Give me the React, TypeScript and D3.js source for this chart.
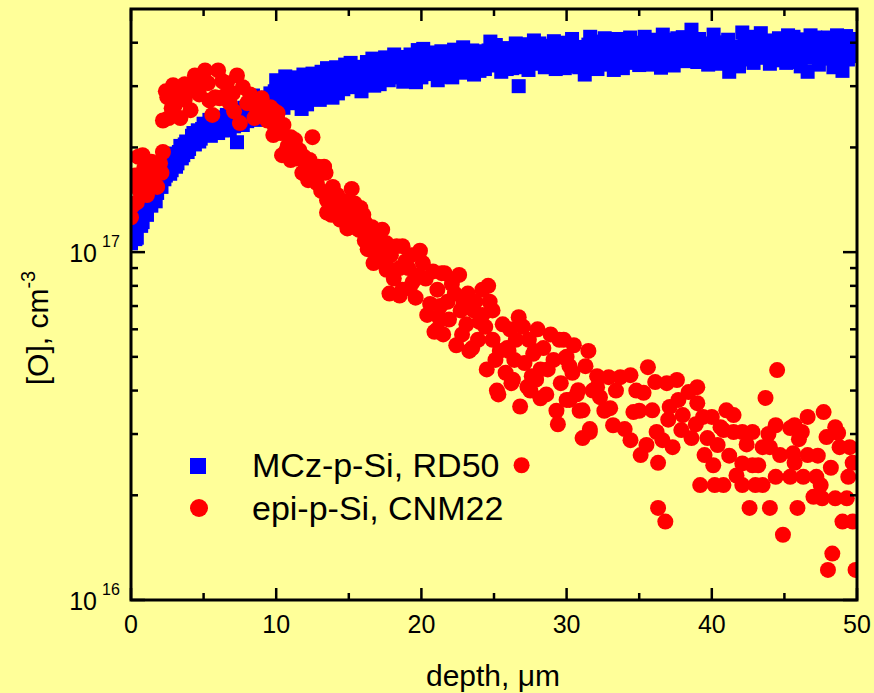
import React from "react";
import * as d3 from "d3";

// [O] values are given in units of 1e16 cm^-3
const UNIT = 1e16;

const mczPoints: [number, number][] = [
  [0.0, 10.6], [0.1, 11.8], [0.2, 11.4], [0.3, 10.9], [0.4, 11.0], [0.5, 12.4], [0.6, 12.6], [0.7, 11.9],
  [0.8, 12.2], [0.9, 13.6], [1.0, 13.4], [1.1, 12.8], [1.2, 14.4], [1.3, 14.8], [1.4, 13.6], [1.5, 14.6],
  [1.6, 15.6], [1.7, 14.0], [1.8, 14.8], [1.9, 16.0], [2.0, 16.2], [2.1, 15.4], [2.2, 17.4], [2.3, 16.2],
  [2.4, 16.6], [2.5, 17.8], [2.6, 18.4], [2.7, 16.8], [2.8, 17.2], [2.9, 18.6], [3.0, 19.2], [3.1, 17.6],
  [3.2, 18.0], [3.3, 19.4], [3.4, 20.2], [3.5, 18.6], [3.6, 19.0], [3.7, 20.4], [3.8, 20.8], [3.9, 19.4],
  [4.0, 19.8], [4.1, 20.6], [4.2, 21.6], [4.3, 22.0], [4.4, 20.4], [4.5, 21.0], [4.6, 22.4], [4.7, 20.8],
  [4.8, 21.2], [4.9, 22.6], [5.0, 23.4], [5.1, 22.2], [5.2, 21.8], [5.3, 23.0], [5.4, 24.0], [5.5, 21.6],
  [5.6, 22.6], [5.7, 24.2], [5.8, 23.6], [5.9, 22.6], [6.0, 22.0], [6.1, 23.6], [6.2, 24.4], [6.3, 22.4],
  [6.4, 23.0], [6.5, 24.0], [6.6, 24.8], [6.7, 23.4], [6.8, 22.4], [6.9, 25.0], [7.0, 24.0], [7.1, 23.0],
  [7.2, 25.2], [7.3, 20.7], [7.4, 23.4], [7.5, 25.6], [7.6, 24.6], [7.7, 23.2], [7.8, 26.0], [7.9, 25.0],
  [8.0, 23.8], [8.1, 26.6], [8.2, 25.6], [8.3, 24.2], [8.4, 28.2], [8.5, 27.0], [8.6, 24.4], [8.7, 25.4],
  [8.8, 26.8], [8.9, 24.0], [9.0, 25.0], [9.1, 27.8], [9.2, 27.4], [9.3, 26.0], [9.4, 24.6], [9.5, 25.2],
  [9.6, 28.6], [9.7, 27.0], [9.8, 26.0], [9.9, 29.0], [10.0, 31.2], [10.1, 25.0],
  [10.125, 29.2], [10.25, 30.5], [10.375, 27.6], [10.5, 26.0], [10.625, 32.0], [10.75, 28.9], [10.875, 26.8],
  [11.0, 31.8], [11.125, 29.8], [11.25, 27.2], [11.375, 31.0], [11.5, 29.6], [11.625, 28.2], [11.75, 25.8],
  [11.875, 32.4], [12.0, 30.8], [12.125, 26.6], [12.25, 28.4], [12.375, 30.2], [12.5, 32.6], [12.625, 28.0],
  [12.75, 29.0], [12.875, 31.4], [13.0, 27.4], [13.125, 33.0], [13.25, 31.5], [13.375, 28.8], [13.5, 33.8],
  [13.625, 30.6], [13.75, 29.5], [13.875, 27.8], [14.0, 31.9], [14.125, 34.0], [14.25, 28.6], [14.375, 30.8],
  [14.5, 33.0], [14.625, 29.4], [14.75, 34.6], [14.875, 32.6], [15.0, 30.4], [15.125, 35.0], [15.25, 32.2],
  [15.375, 30.2], [15.5, 29.8], [15.625, 33.2], [15.75, 34.1], [15.875, 29.0], [16.0, 31.6], [16.125, 33.8],
  [16.25, 35.2], [16.375, 31.0], [16.5, 32.4], [16.625, 36.0], [16.75, 30.1], [16.875, 32.8], [17.0, 34.4],
  [17.125, 30.4], [17.25, 33.0], [17.375, 35.0], [17.5, 36.3], [17.625, 32.0], [17.75, 31.2], [17.875, 34.6],
  [18.0, 34.9], [18.125, 37.0], [18.25, 32.6], [18.375, 31.8], [18.5, 35.8], [18.625, 33.6], [18.75, 30.9],
  [18.875, 36.4], [19.0, 34.0], [19.125, 32.2], [19.25, 37.0], [19.375, 35.2], [19.5, 33.1], [19.625, 30.8],
  [19.75, 38.1], [19.875, 34.6], [20.0, 31.8], [20.125, 38.4], [20.25, 36.6], [20.375, 33.2], [20.5, 34.2],
  [20.625, 36.0], [20.75, 32.5], [20.875, 34.4], [21.0, 37.5], [21.125, 31.2], [21.25, 34.8], [21.375, 37.8],
  [21.5, 31.9], [21.625, 33.8], [21.75, 36.0], [21.875, 35.4], [22.0, 33.6], [22.125, 31.8], [22.25, 38.2],
  [22.375, 36.4], [22.5, 35.1], [22.625, 34.0], [22.75, 32.8], [22.875, 38.8], [23.0, 36.9], [23.125, 33.0],
  [23.25, 34.0], [23.375, 36.2], [23.5, 38.0], [23.625, 32.4], [23.75, 35.6], [23.875, 37.8], [24.0, 33.2],
  [24.125, 35.4], [24.25, 37.4], [24.375, 33.6], [24.5, 35.0], [24.625, 38.0], [24.75, 40.3], [24.875, 36.2],
  [25.0, 34.4], [25.125, 39.4], [25.25, 36.8], [25.375, 35.0], [25.5, 33.0], [25.625, 37.2], [25.75, 38.6],
  [25.875, 33.6], [26.0, 35.9], [26.125, 38.2], [26.25, 33.8], [26.375, 36.0], [26.5, 39.8], [26.625, 34.0],
  [26.7, 30.0], [26.75, 36.5], [26.875, 39.6], [27.0, 34.6], [27.125, 35.8], [27.25, 38.8], [27.375, 33.4],
  [27.5, 36.0], [27.625, 37.6], [27.75, 40.6], [27.875, 34.8], [28.0, 35.2], [28.125, 39.8], [28.25, 37.9],
  [28.375, 36.6], [28.5, 34.0], [28.625, 35.2], [28.75, 39.2], [28.875, 38.0], [29.0, 36.4], [29.125, 40.4],
  [29.25, 33.6], [29.375, 35.0], [29.5, 38.1], [29.625, 37.2], [29.75, 35.5], [29.875, 33.8], [30.0, 40.0],
  [30.125, 38.4], [30.25, 36.8], [30.375, 41.0], [30.5, 34.2], [30.625, 36.4], [30.75, 38.9], [30.875, 34.0],
  [31.0, 35.7], [31.125, 37.6], [31.25, 32.4], [31.375, 35.4], [31.5, 39.5], [31.625, 41.6], [31.75, 36.2],
  [31.875, 38.4], [32.0, 40.3], [32.125, 33.6], [32.25, 37.4], [32.375, 36.4], [32.5, 34.6], [32.625, 41.2],
  [32.75, 39.0], [32.875, 37.2], [33.0, 35.4], [33.125, 39.4], [33.25, 33.4], [33.375, 35.8], [33.5, 41.0],
  [33.625, 38.2], [33.75, 37.0], [33.875, 33.8], [34.0, 38.6], [34.125, 37.6], [34.25, 35.0], [34.375, 41.4],
  [34.5, 40.0], [34.625, 35.4], [34.75, 36.6], [34.875, 38.8], [35.0, 34.5], [35.125, 36.4], [35.25, 39.4],
  [35.375, 41.6], [35.5, 37.2], [35.625, 34.6], [35.75, 40.4], [35.875, 38.2], [36.0, 35.8], [36.125, 40.8],
  [36.25, 38.0], [36.375, 36.6], [36.5, 33.9], [36.625, 42.2], [36.75, 39.6], [36.875, 35.0], [37.0, 37.0],
  [37.125, 38.6], [37.25, 40.8], [37.375, 34.4], [37.5, 36.0], [37.625, 41.2], [37.75, 38.5], [37.875, 37.8],
  [38.0, 41.5], [38.125, 35.4], [38.375, 39.6], [38.5, 37.6], [38.6, 43.6], [38.75, 40.0], [38.875, 37.2],
  [39.0, 35.2], [39.125, 41.0], [39.25, 38.9], [39.375, 36.0], [39.5, 36.6], [39.625, 39.8], [39.75, 34.6],
  [39.875, 37.4], [40.0, 39.2], [40.125, 42.2], [40.25, 37.4], [40.375, 34.8], [40.5, 35.6], [40.625, 38.4],
  [40.75, 40.1], [40.875, 36.8], [41.0, 38.0], [41.125, 40.8], [41.2, 33.0], [41.375, 35.6], [41.5, 39.0],
  [41.625, 38.2], [41.75, 36.4], [41.875, 34.2], [42.0, 37.2], [42.1, 42.8], [42.25, 40.4], [42.375, 37.6],
  [42.5, 35.8], [42.625, 41.6], [42.75, 38.6], [42.875, 35.0], [43.0, 41.2], [43.125, 38.6], [43.25, 36.4],
  [43.375, 42.6], [43.5, 39.4], [43.625, 36.2], [43.75, 37.0], [43.875, 40.2], [44.0, 34.8], [44.125, 37.8],
  [44.25, 40.6], [44.375, 35.6], [44.5, 38.2], [44.625, 41.2], [44.75, 36.0], [44.875, 38.8], [45.0, 39.8],
  [45.125, 35.0], [45.25, 42.0], [45.375, 39.2], [45.5, 37.4], [45.625, 41.6], [45.75, 35.2], [45.875, 37.0],
  [46.0, 38.8], [46.125, 34.2], [46.25, 40.9], [46.375, 39.0], [46.5, 36.2], [46.6, 33.0], [46.8, 42.0],
  [46.875, 37.2], [47.0, 39.0], [47.125, 41.4], [47.25, 36.8], [47.375, 34.6], [47.5, 40.2], [47.625, 38.8],
  [47.75, 37.6], [47.875, 36.0], [48.0, 41.4], [48.125, 40.6], [48.25, 38.2], [48.375, 34.0], [48.5, 35.4],
  [48.625, 42.0], [48.75, 39.6], [48.875, 37.0], [49.0, 33.2], [49.125, 39.4], [49.25, 41.8], [49.375, 35.8],
  [49.5, 37.8], [49.625, 41.0], [49.75, 39.4], [49.875, 38.2], [50.0, 36.6],
];

const epiPoints: [number, number][] = [
  [0.0, 12.6], [0.1, 13.6], [0.2, 15.6], [0.3, 16.6], [0.4, 13.9], [0.5, 18.8], [0.6, 15.0], [0.8, 19.0],
  [0.9, 17.4], [1.0, 16.0], [1.1, 14.6], [1.3, 15.4], [1.4, 18.2], [1.6, 16.4], [1.8, 15.4], [1.9, 17.2],
  [2.0, 18.0], [2.1, 16.9], [2.2, 19.4], [2.2, 23.9], [2.4, 29.0], [2.5, 27.9], [2.6, 24.3], [2.8, 25.9],
  [2.9, 30.2], [3.0, 26.4], [3.1, 28.8], [3.4, 29.8], [3.4, 24.3], [3.7, 30.4], [3.7, 27.4], [3.9, 30.0],
  [4.1, 25.6], [4.3, 29.2], [4.4, 32.2], [4.6, 30.6], [4.7, 28.4], [4.9, 31.4], [5.1, 33.3], [5.3, 30.6],
  [5.4, 27.3], [5.6, 24.8], [5.8, 27.9], [6.0, 33.3], [6.1, 27.7], [6.3, 31.0], [6.5, 28.2], [6.6, 30.6],
  [6.8, 26.8], [7.0, 28.6], [7.1, 25.4], [7.3, 32.2], [7.5, 23.5], [7.7, 29.8], [8.0, 26.8], [8.2, 28.4],
  [8.4, 26.6], [8.5, 24.3], [8.7, 26.0], [8.7, 25.0], [9.0, 27.7], [9.2, 25.2], [9.4, 23.9], [9.6, 26.1],
  [9.8, 21.7], [9.8, 25.6], [9.9, 23.0], [10.1, 25.1], [10.1, 23.9], [10.3, 22.0], [10.4, 19.0], [10.5, 23.2],
  [10.7, 19.6], [10.8, 20.2], [11.0, 18.4], [11.0, 21.4], [11.3, 21.0], [11.4, 18.6], [11.6, 19.6],
  [11.8, 16.9], [11.9, 18.8], [12.0, 17.2], [12.2, 16.1], [12.3, 18.4], [12.5, 21.4], [12.5, 16.4],
  [12.7, 17.6], [12.8, 15.8], [12.9, 17.6], [13.1, 15.0], [13.3, 17.6], [13.4, 16.9], [13.5, 14.1],
  [13.5, 13.0], [13.7, 14.4], [13.8, 12.8], [13.9, 15.4], [14.0, 13.5], [14.2, 14.6], [14.4, 13.2],
  [14.4, 12.4], [14.6, 13.2], [14.8, 14.0], [14.9, 11.7], [15.0, 12.8], [15.1, 11.8], [15.2, 15.2],
  [15.4, 13.8], [15.5, 12.6], [15.7, 11.6], [15.8, 13.4], [16.0, 12.8], [16.1, 12.2], [16.1, 10.8],
  [16.3, 10.2], [16.5, 11.2], [16.6, 11.8], [16.7, 9.3], [16.8, 10.0], [17.0, 10.8], [17.1, 9.6],
  [17.3, 11.6], [17.4, 10.2], [17.6, 10.6], [17.6, 8.9], [17.7, 9.0], [17.8, 7.6], [17.9, 9.8], [18.1, 8.4],
  [18.3, 10.4], [18.5, 9.0], [18.5, 7.5], [18.7, 7.8], [18.7, 10.4], [18.9, 9.4], [19.1, 9.0], [19.2, 7.9],
  [19.3, 9.8], [19.4, 8.2], [19.6, 7.4], [19.8, 8.6], [19.9, 10.1], [20.1, 9.3], [20.3, 8.4], [20.4, 6.6],
  [20.6, 7.1], [20.8, 8.8], [20.9, 5.9], [21.1, 7.8], [21.1, 6.0], [21.2, 6.5], [21.3, 7.0], [21.4, 8.7],
  [21.5, 5.8], [21.6, 8.7], [21.8, 7.2], [21.9, 6.4], [22.1, 8.1], [22.3, 7.6], [22.4, 5.4], [22.6, 8.6],
  [22.7, 6.8], [22.8, 5.8], [22.9, 7.1], [23.1, 6.2], [23.2, 7.6], [23.3, 5.2], [23.5, 5.3], [23.6, 6.8],
  [23.7, 7.2], [23.9, 5.6], [24.0, 6.3], [24.2, 7.8], [24.2, 6.6], [24.4, 6.1], [24.5, 4.6], [24.6, 8.0],
  [24.7, 7.2], [24.9, 6.8], [24.9, 5.6], [25.1, 4.9], [25.2, 4.0], [25.3, 3.9], [25.4, 5.2], [25.6, 6.2],
  [25.8, 4.5], [25.9, 5.3], [26.0, 5.2], [26.1, 6.0], [26.2, 4.2], [26.3, 4.3], [26.4, 4.9], [26.5, 5.6],
  [26.7, 6.5], [26.8, 3.6], [26.9, 2.44], [27.0, 6.1], [27.1, 4.8], [27.3, 4.1], [27.4, 5.6], [27.5, 4.0],
  [27.6, 4.4], [27.7, 5.1], [27.8, 5.2], [27.9, 4.3], [28.0, 6.0], [28.2, 3.8], [28.2, 4.6], [28.4, 5.3],
  [28.6, 3.9], [28.7, 4.6], [28.9, 5.8], [29.1, 4.9], [29.3, 3.5], [29.4, 3.2], [29.5, 5.6], [29.6, 4.2],
  [29.8, 5.6], [29.9, 4.96], [30.0, 5.0], [30.0, 3.76], [30.2, 3.76], [30.2, 4.7], [30.4, 4.5], [30.5, 5.4],
  [30.7, 3.9], [30.8, 4.01], [30.9, 3.5], [31.1, 3.51], [31.1, 2.92], [31.3, 4.7], [31.5, 5.2], [31.6, 3.04],
  [31.6, 3.1], [31.8, 4.0], [32.1, 4.09], [32.1, 4.4], [32.3, 3.83], [32.6, 3.5], [32.9, 4.37], [33.0, 3.56],
  [33.2, 3.18], [33.4, 4.0], [33.7, 4.37], [34.0, 3.1], [34.4, 4.43], [34.4, 2.88], [34.6, 3.47], [34.8, 4.0],
  [35.0, 3.5], [35.1, 2.61], [35.3, 3.94], [35.5, 2.79], [35.6, 4.67], [35.9, 3.51], [36.1, 4.23],
  [36.2, 3.04], [36.3, 2.48], [36.3, 1.84], [36.6, 2.88], [36.8, 1.68], [36.9, 4.2], [37.0, 3.3],
  [37.1, 3.59], [37.3, 2.75], [37.6, 4.29], [37.7, 3.76], [37.9, 3.08], [38.0, 3.4], [38.4, 3.96],
  [38.6, 2.92], [38.9, 3.2], [39.0, 4.09], [39.0, 3.68], [39.2, 2.14], [39.4, 3.36], [39.5, 2.61],
  [39.7, 2.92], [40.0, 3.36], [40.1, 2.44], [40.2, 2.14], [40.4, 2.79], [40.6, 3.14], [40.8, 3.08],
  [40.8, 2.14], [41.0, 3.51], [41.2, 2.6], [41.5, 3.4], [41.5, 3.04], [41.7, 2.28], [42.1, 3.04],
  [42.1, 2.47], [42.1, 2.14], [42.4, 2.8], [42.6, 1.84], [42.8, 3.04], [42.8, 2.44], [43.0, 2.14],
  [43.2, 2.44], [43.5, 2.75], [43.5, 2.14], [43.7, 3.81], [43.9, 3.0], [44.0, 2.75], [44.0, 1.84],
  [44.4, 3.18], [44.4, 2.26], [44.5, 4.58], [44.7, 2.61], [44.9, 1.54], [45.4, 3.12], [45.4, 2.26],
  [45.6, 2.64], [45.7, 3.18], [45.7, 2.48], [45.9, 1.84], [46.0, 2.9], [46.2, 3.04], [46.3, 2.26],
  [46.6, 3.36], [46.6, 2.61], [47.0, 1.98], [47.2, 2.26], [47.3, 2.6], [47.5, 2.14], [47.6, 1.96],
  [47.7, 3.47], [47.9, 2.94], [48.0, 1.22], [48.2, 2.4], [48.3, 1.36], [48.5, 3.14], [48.5, 1.96],
  [48.7, 3.02], [48.8, 2.75], [49.0, 1.68], [49.3, 1.96], [49.4, 2.26], [49.5, 2.75], [49.7, 2.48],
  [49.7, 1.68], [49.9, 1.22],
];

const xMajorTicks = [0, 10, 20, 30, 40, 50];
const xMinorTicks = [5, 15, 25, 35, 45];
const yMajorTicks = [1e16, 1e17];
const yMajorExponents = ["16", "17"];
const yMinorTicks = [2e16, 3e16, 4e16, 5e16, 6e16, 7e16, 8e16, 9e16, 2e17, 3e17, 4e17];
const seriesNames = ["MCz-p-Si, RD50", "epi-p-Si, CNM22"];
const seriesColors = ["#0000FF", "#FF0000"];

const W = 874;
const H = 693;
const BG = "#FFFF99";
const FONT = "'Liberation Sans', Arial, Helvetica, sans-serif";

export default function App() {
  const left = 131, right = 857, top = 9, bottom = 600;
  const x = d3.scaleLinear().domain([0, 50]).range([left, right]);
  const y = d3.scaleLog().domain([1e16, 5e17]).range([bottom, top]);
  const sq = 14;
  const r = 8;
  const axisW = 3;

  return (
    <svg
      width={W}
      height={H}
      style={{ position: "absolute", left: 0, top: 0, background: BG, fontFamily: FONT }}
    >
      <rect x={0} y={0} width={W} height={H} fill={BG} />
      <defs>
        <clipPath id="plotClip">
          <rect x={left} y={top} width={right - left} height={bottom - top} />
        </clipPath>
      </defs>
      <g clipPath="url(#plotClip)">
        {mczPoints.map(([d, v], i) => (
          <rect
            key={"m" + i}
            x={x(d) - sq / 2}
            y={y(v * UNIT) - sq / 2}
            width={sq}
            height={sq}
            fill={seriesColors[0]}
          />
        ))}
        {epiPoints.map(([d, v], i) => (
          <circle key={"e" + i} cx={x(d)} cy={y(v * UNIT)} r={r} fill={seriesColors[1]} />
        ))}
      </g>

      {/* frame */}
      <rect
        x={left}
        y={top}
        width={right - left}
        height={bottom - top}
        fill="none"
        stroke="#000"
        strokeWidth={axisW}
      />

      {/* x ticks */}
      {xMajorTicks.map((t) => (
        <g key={"xt" + t}>
          <line x1={x(t)} x2={x(t)} y1={bottom} y2={bottom - 12} stroke="#000" strokeWidth={2.5} />
          <line x1={x(t)} x2={x(t)} y1={top} y2={top + 12} stroke="#000" strokeWidth={2.5} />
          <text x={x(t)} y={633} fontSize={25} textAnchor="middle" fill="#000">
            {t}
          </text>
        </g>
      ))}
      {xMinorTicks.map((t) => (
        <g key={"xm" + t}>
          <line x1={x(t)} x2={x(t)} y1={bottom} y2={bottom - 7} stroke="#000" strokeWidth={2.5} />
          <line x1={x(t)} x2={x(t)} y1={top} y2={top + 7} stroke="#000" strokeWidth={2.5} />
        </g>
      ))}

      {/* y ticks */}
      {yMajorTicks.map((t, i) => (
        <g key={"yt" + i}>
          <line x1={left} x2={left + 14} y1={y(t)} y2={y(t)} stroke="#000" strokeWidth={2.5} />
          <line x1={right} x2={right - 14} y1={y(t)} y2={y(t)} stroke="#000" strokeWidth={2.5} />
          <text x={97} y={y(t) + 10} fontSize={25} textAnchor="end" fill="#000">
            10
          </text>
          <text x={102} y={y(t) - 5} fontSize={16} textAnchor="start" fill="#000">
            {yMajorExponents[i]}
          </text>
        </g>
      ))}
      {yMinorTicks.map((t, i) => (
        <g key={"ym" + i}>
          <line x1={left} x2={left + 7} y1={y(t)} y2={y(t)} stroke="#000" strokeWidth={2.5} />
          <line x1={right} x2={right - 7} y1={y(t)} y2={y(t)} stroke="#000" strokeWidth={2.5} />
        </g>
      ))}

      {/* axis titles */}
      <text x={493} y={686} fontSize={30} textAnchor="middle" fill="#000">
        depth, μm
      </text>
      <g transform="translate(48,328) rotate(-90)">
        <text x={0} y={0} fontSize={30} textAnchor="middle" fill="#000">
          [O], cm
          <tspan fontSize={20} dy={-13}>
            -3
          </tspan>
        </text>
      </g>

      {/* legend */}
      <rect x={190} y={458} width={16} height={16} fill={seriesColors[0]} />
      <text x={252} y={477} fontSize={34} fill="#000">
        {seriesNames[0]}
      </text>
      <circle cx={199} cy={508} r={9} fill={seriesColors[1]} />
      <text x={252} y={520} fontSize={34} fill="#000">
        {seriesNames[1]}
      </text>
    </svg>
  );
}
